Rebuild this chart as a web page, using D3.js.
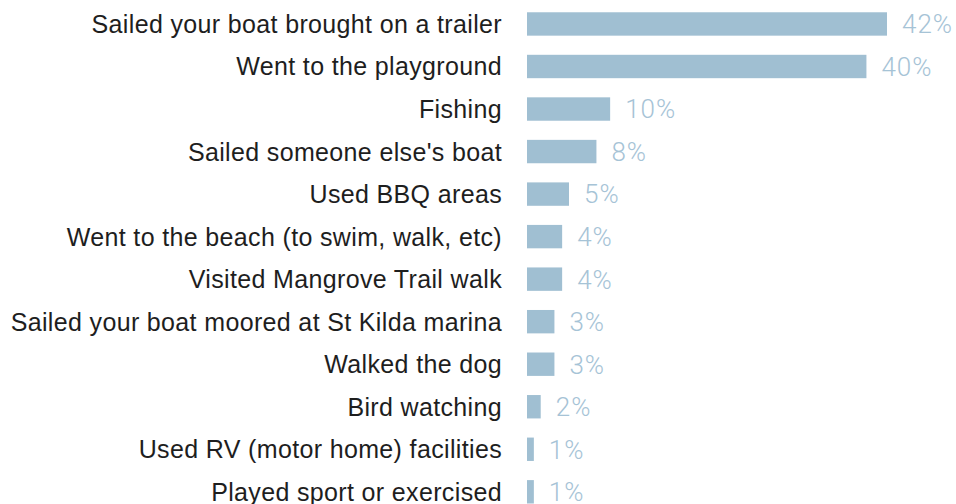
<!DOCTYPE html>
<html>
<head>
<meta charset="utf-8">
<script src="https://cdn.jsdelivr.net/npm/d3@7"></script>
<style>
  html, body { margin: 0; padding: 0; background: #fff; }
  svg { display: block; }
  text { font-family: "Helvetica Neue", "Liberation Sans", Arial, sans-serif; }
  text.value { font-family: "Helvetica Neue", Roboto, "Liberation Sans", sans-serif; font-weight: 300; }
</style>
</head>
<body>
<svg id="chart" width="956" height="504"></svg>
<script>
// MARK: Data.

const activities = [
  'Sailed your boat brought on a trailer',
  'Went to the playground',
  'Fishing',
  "Sailed someone else's boat",
  'Used BBQ areas',
  'Went to the beach (to swim, walk, etc)',
  'Visited Mangrove Trail walk',
  'Sailed your boat moored at St Kilda marina',
  'Walked the dog',
  'Bird watching',
  'Used RV (motor home) facilities',
  'Played sport or exercised',
]
const shares = [42.0, 39.6, 9.7, 8.1, 4.9, 4.1, 4.1, 3.2, 3.2, 1.6, 0.8, 0.8]

// MARK: Layout.

const BAR_LEFT  = 527
const LABEL_END = 502
const TOP       = 2.7
const STEP      = 42.53

const svg = d3.select('#chart')

const x = d3.scaleLinear()
  .domain([0, 42])
  .range([BAR_LEFT, BAR_LEFT + 360])

const y = d3.scaleBand()
  .domain(activities)
  .range([TOP, TOP + STEP * activities.length])
  .paddingInner(0.45)
  .paddingOuter(0.225)

const rows = svg.append('g').selectAll('g')
  .data(activities.map((name, i) => ({ name, value: shares[i] })))
  .join('g')

rows.append('rect')
  .attr('x'     , x(0))
  .attr('y'     , (d) => y(d.name))
  .attr('width' , (d) => x(d.value) - x(0))
  .attr('height', y.bandwidth())
  .attr('fill'  , '#a0bfd2')

rows.append('text')
  .attr('x'             , LABEL_END)
  .attr('y'             , (d) => y(d.name) + y.bandwidth() / 2)
  .attr('dy'            , '0.36em')
  .attr('text-anchor'   , 'end')
  .attr('font-size'     , 25)
  .attr('letter-spacing', 0.35)
  .attr('fill'          , '#1e1e1e')
  .text((d) => d.name)

rows.append('text')
  .attr('class'         , 'value')
  .attr('x'             , (d) => x(d.value) + 15)
  .attr('y'             , (d) => y(d.name) + y.bandwidth() / 2)
  .attr('dy'            , '0.36em')
  .attr('font-size'     , 26)
  .attr('letter-spacing', 1)
  .attr('fill'          , '#a6c3d6')
  .text((d) => `${Math.round(d.value)}%`)
</script>
</body>
</html>
